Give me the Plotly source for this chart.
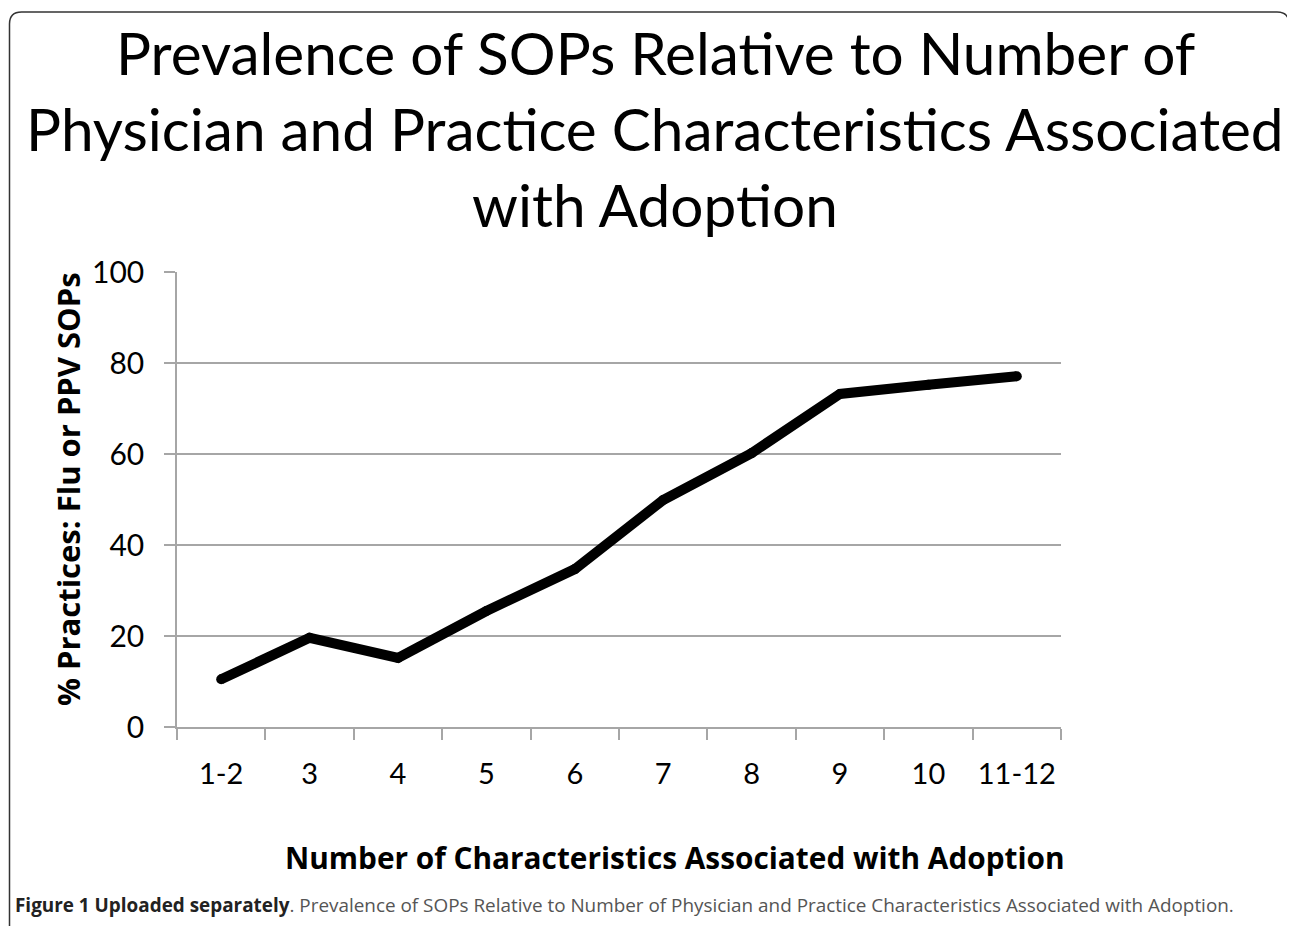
import plotly.graph_objects as go

categories = ["1-2", "3", "4", "5", "6", "7", "8", "9", "10", "11-12"]
values = [10.5, 19.6, 15.2, 25.5, 34.7, 49.9, 60.2, 73.2, 75.2, 77.1]
y_ticks = [0, 20, 40, 60, 80, 100]

title_lines = [
    "Prevalence of SOPs Relative to Number of",
    "Physician and Practice Characteristics Associated",
    "with Adoption",
]
y_title = "% Practices: Flu or PPV SOPs"
x_title = "Number of Characteristics Associated with Adoption"
caption_bold = "Figure 1 Uploaded separately"
caption_rest = ". Prevalence of SOPs Relative to Number of Physician and Practice Characteristics Associated with Adoption."

OFF = 8  # page body margin
W, H = 1295 - OFF, 926 - OFF
# plot area in page pixels
L, R, T, B = 177, 1061, 272, 727
pw, ph = R - L, B - T


def px(x):
    return (x - L) / pw


def py(y):
    return (B - y) / ph


FONT = "Lato, 'Open Sans', sans-serif"
BFONT = "'Open Sans', sans-serif"

fig = go.Figure()
fig.add_trace(go.Scatter(
    x=categories, y=values, mode="lines+markers",
    line=dict(color="black", width=10),
    marker=dict(color="black", size=10),
    hoverinfo="x+y", showlegend=False,
))

annotations = []
for line, yc in zip(title_lines, [52, 128, 204]):
    annotations.append(dict(
        text=line, x=px(655), y=py(yc), xref="paper", yref="paper",
        xanchor="center", yanchor="middle", showarrow=False,
        font=dict(family=FONT, size=58.5, color="black"),
    ))
annotations.append(dict(
    text="<b>" + y_title + "</b>", x=px(68), y=py(489), xref="paper", yref="paper",
    xanchor="center", yanchor="middle", showarrow=False, textangle=-90,
    font=dict(family=BFONT, size=31, color="black"),
))
annotations.append(dict(
    text="<b>" + x_title + "</b>", x=px(675), y=py(858), xref="paper", yref="paper",
    xanchor="center", yanchor="middle", showarrow=False,
    font=dict(family=BFONT, size=29.8, color="black"),
))
annotations.append(dict(
    text="<b><span style='color:#222222'>" + caption_bold + "</span></b>" + caption_rest,
    x=px(13), y=py(905), xref="paper", yref="paper",
    xanchor="left", yanchor="middle", showarrow=False,
    font=dict(family="'Open Sans', sans-serif", size=18.9, color="#555555"),
))

# rounded border (open at bottom, runs off the page)
x0, x1, y0 = px(9.5), px(1289), py(12)
rx, ry = 12 / pw, 12 / ph
yb = py(960)
path = (f"M {x0},{yb} L {x0},{y0 - ry} Q {x0},{y0} {x0 + rx},{y0} "
        f"L {x1 - rx},{y0} Q {x1},{y0} {x1},{y0 - ry} L {x1},{yb}")

fig.update_layout(
    width=W, height=H,
    margin=dict(l=L - OFF, r=(W + OFF) - R, t=T - OFF, b=(H + OFF) - B, pad=0),
    paper_bgcolor="white", plot_bgcolor="white",
    annotations=annotations,
    shapes=[dict(type="path", path=path, xref="paper", yref="paper",
                 line=dict(color="#333333", width=1.5), layer="above")],
    xaxis=dict(
        type="category", categoryorder="array", categoryarray=categories,
        range=[-0.5, len(categories) - 0.5],
        showline=True, linecolor="#a6a6a6", linewidth=1.5,
        ticks="outside", tickson="boundaries", ticklen=11, tickcolor="#a6a6a6", tickwidth=1.5,
        showgrid=False, zeroline=False, tickangle=0,
        tickfont=dict(family=FONT, size=29, color="black"),
        ticklabelstandoff=20,
    ),
    yaxis=dict(
        range=[0, 100], tickvals=y_ticks,
        showline=True, linecolor="#a6a6a6", linewidth=1.5,
        ticks="outside", ticklen=11, tickcolor="#a6a6a6", tickwidth=1.5,
        showgrid=True, gridcolor="#a6a6a6", gridwidth=1.5, zeroline=False,
        tickfont=dict(family=FONT, size=30, color="black"),
        ticklabelstandoff=14,
    ),
)

fig.write_html("out.html")
